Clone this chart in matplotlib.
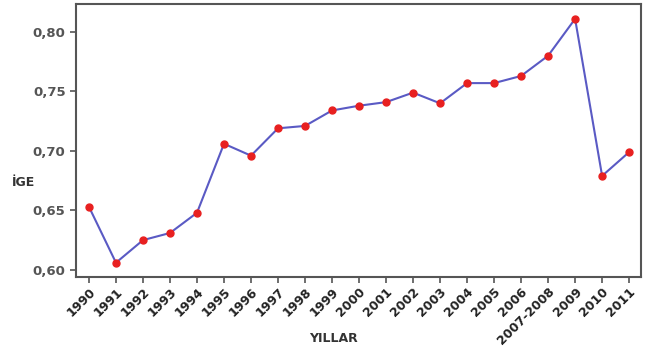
import matplotlib
matplotlib.use("Agg")
import matplotlib.pyplot as plt
from matplotlib.ticker import FuncFormatter

years = ["1990", "1991", "1992", "1993", "1994", "1995", "1996", "1997", "1998",
         "1999", "2000", "2001", "2002", "2003", "2004", "2005", "2006",
         "2007-2008", "2009", "2010", "2011"]
ige = [0.653, 0.606, 0.625, 0.631, 0.648, 0.706, 0.696, 0.719, 0.721,
       0.734, 0.738, 0.741, 0.749, 0.740, 0.757, 0.757, 0.763,
       0.780, 0.811, 0.679, 0.699]
yticks = [0.60, 0.65, 0.70, 0.75, 0.80]

fig = plt.figure(figsize=(6.51, 3.51), dpi=100)
ax = fig.add_axes([76/651, 1 - 277/351, (641-76)/651, (277-4)/351])
x = list(range(len(years)))
ax.plot(x, ige, color="#5a5ac4", lw=1.5, zorder=2)
ax.plot(x, ige, ls="none", marker="o", ms=5, color="#e82020", zorder=3)

ax.set_xlim(-0.48, 20.44)
ax.set_ylim(0.594, 0.8235)
ax.set_yticks(yticks)
ax.yaxis.set_major_formatter(FuncFormatter(lambda v, p: f"{v:.2f}".replace(".", ",")))
ax.set_xticks(x)
ax.set_xticklabels(years, rotation=45, ha="right", rotation_mode="anchor")

for s in ax.spines.values():
    s.set_color("#555555")
    s.set_linewidth(1.5)
ax.tick_params(axis="both", direction="out", length=4, width=1.2, color="#555555")
ax.tick_params(axis="y", labelsize=9.5, labelcolor="#555555")
ax.tick_params(axis="x", labelsize=9, pad=2, labelcolor="#222222")
for lab in ax.get_yticklabels():
    lab.set_fontweight("bold")
for lab in ax.get_xticklabels():
    lab.set_fontweight("bold")

fig.text(12/651, 1 - 183/351, "İGE", fontsize=9, fontweight="bold", color="#333333",
         ha="left", va="center")
fig.text(333/651, 1 - 338/351, "YILLAR", fontsize=9, fontweight="bold", color="#333333",
         ha="center", va="center")

fig.savefig("out.png", dpi=100)
